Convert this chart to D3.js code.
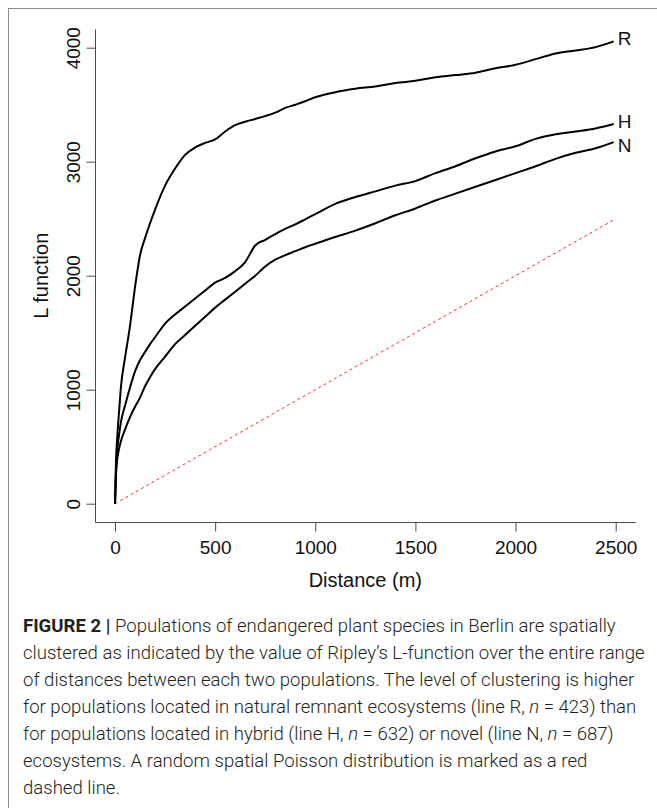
<!DOCTYPE html>
<html><head><meta charset="utf-8">
<script src="https://cdn.jsdelivr.net/npm/d3@7"></script>
<style>body{margin:0;background:#fff} svg{display:block}</style>
</head><body>
<svg id="c" width="657" height="808"></svg>
<script>
// ---- data ----
const distances = [0,5,10,20,30,50,75,100,125,150,175,200,250,300,350,400,450,500,550,600,650,700,750,800,850,900,950,1000,1100,1200,1300,1400,1500,1600,1700,1800,1900,2000,2100,2200,2300,2400,2490];
const seriesR = [0,380,550,800,1030,1280,1560,1900,2180,2330,2460,2580,2790,2940,3060,3125,3165,3196,3265,3320,3350,3375,3400,3430,3472,3500,3530,3565,3610,3640,3660,3690,3710,3740,3760,3780,3820,3850,3900,3950,3975,4005,4055];
const seriesH = [0,300,450,600,720,860,1020,1160,1260,1330,1400,1460,1580,1660,1730,1800,1870,1940,1980,2040,2120,2265,2315,2365,2410,2450,2495,2540,2630,2690,2740,2790,2830,2900,2960,3030,3090,3135,3200,3240,3265,3292,3330];
const seriesN = [0,250,370,480,550,650,760,850,930,1030,1110,1180,1290,1400,1480,1560,1640,1720,1790,1860,1930,2000,2080,2140,2180,2215,2250,2280,2340,2395,2460,2530,2590,2660,2720,2780,2840,2900,2960,3025,3078,3118,3172];
const poissonDist = [0, 2490];        // random Poisson: L(r) = r
const seriesNames = ["R","H","N"];
const labelValues = [4085, 3357, 3146];
const labelDist = 2510;
const xTicks = [0,500,1000,1500,2000,2500];
const yTicks = [0,1000,2000,3000,4000];
const xLabel = "Distance (m)";
const yLabel = "L function";
const captionLines = [
  [["FIGURE 2 |","b"],[" Populations of endangered plant species in Berlin are spatially",""]],
  [["clustered as indicated by the value of Ripley\u2019s L-function over the entire range",""]],
  [["of distances between each two populations. The level of clustering is higher",""]],
  [["for populations located in natural remnant ecosystems (line R, ",""],["n","i"],[" = 423) than",""]],
  [["for populations located in hybrid (line H, ",""],["n","i"],[" = 632) or novel (line N, ",""],["n","i"],[" = 687)",""]],
  [["ecosystems. A random spatial Poisson distribution is marked as a red",""]],
  [["dashed line.",""]]
];

// ---- drawing ----
const svg = d3.select("#c");
const FONT = "'Liberation Sans', Arial, Helvetica, sans-serif";

svg.append("rect").attr("x",8.5).attr("y",8.5).attr("width",720).attr("height",900)
  .attr("fill","none").attr("stroke","#8c8c8c").attr("stroke-width",1);

const x = d3.scaleLinear().domain([0,2500]).range([115,615.7]);
const y = d3.scaleLinear().domain([0,4000]).range([503.7,47.7]);
const xPad = 0.04*(x.domain()[1]-x.domain()[0]);
const yPad = 0.04*(y.domain()[1]-y.domain()[0]);
const fx0 = x(x.domain()[0]-xPad), fx1 = x(x.domain()[1]+xPad);
const fy0 = y(y.domain()[0]-yPad), fy1 = y(y.domain()[1]+yPad);

// L-shaped frame
const frame = svg.append("g").attr("stroke","#4a4a4a").attr("stroke-width",1).attr("fill","none");
frame.append("path").attr("d", `M${Math.round(fx0)+0.5},${fy1}V${Math.round(fy0)+0.5}H${fx1}`);

// x axis
const gx = svg.append("g").attr("transform",`translate(0,${Math.round(fy0)+0.5})`)
  .call(d3.axisBottom(x).tickValues(xTicks).tickSize(9).tickPadding(9).tickFormat(d3.format("d")));
gx.select(".domain").remove();
gx.selectAll(".tick line").attr("stroke","#4a4a4a");
gx.selectAll(".tick text").attr("fill","#111").style("font-family",FONT).style("font-size","19px");

// y axis
const gy = svg.append("g").attr("transform",`translate(${Math.round(fx0)+0.5},0)`)
  .call(d3.axisLeft(y).tickValues(yTicks).tickSize(9).tickFormat(d3.format("d")));
gy.select(".domain").remove();
gy.selectAll(".tick line").attr("stroke","#4a4a4a");
gy.selectAll(".tick text").attr("fill","#111").style("font-family",FONT).style("font-size","19px")
  .attr("x",0).attr("y",-15.5).attr("dy",0).attr("text-anchor","middle").attr("transform","rotate(-90)");

// axis titles
svg.append("text").attr("x",(fx0+fx1)/2).attr("y",587).attr("text-anchor","middle")
  .style("font-family",FONT).style("font-size","20px").attr("fill","#111").text(xLabel);
svg.append("text").attr("transform",`translate(48,${(fy0+fy1)/2}) rotate(-90)`).attr("text-anchor","middle")
  .style("font-family",FONT).style("font-size","20px").attr("fill","#111").text(yLabel);

// Poisson reference line
const line = d3.line().x(d=>x(d[0])).y(d=>y(d[1]));
svg.append("path").datum(poissonDist.map(d=>[d,d])).attr("d",line)
  .attr("fill","none").attr("stroke","#ff2a2a").attr("stroke-width",1).attr("stroke-dasharray","3,3");

// L-function curves
const curveLine = d3.line().x(d=>x(d[0])).y(d=>y(d[1])).curve(d3.curveMonotoneX);
[seriesR, seriesH, seriesN].forEach(s=>{
  svg.append("path").datum(distances.map((d,i)=>[d,s[i]])).attr("d",curveLine)
    .attr("fill","none").attr("stroke","#000").attr("stroke-width",2).attr("stroke-linejoin","round");
});

// series labels
svg.selectAll("text.lab").data(seriesNames).join("text").attr("class","lab")
  .attr("x",x(labelDist)).attr("y",(d,i)=>y(labelValues[i])).attr("dy","0.36em")
  .style("font-family",FONT).style("font-size","19px").attr("fill","#111").text(d=>d);

// caption
const CFONT = "Roboto, 'Liberation Sans', sans-serif";
const cap = svg.append("g").attr("fill","#231f20").style("font-family",CFONT);
const capX = 23, capY0 = 632, capDY = 27;
const texts = captionLines.map((segs,i)=>{
  const t = cap.append("text").attr("x",capX).attr("y",capY0+i*capDY).style("font-size","17px").style("font-weight","300");
  segs.forEach(([s,st])=>{
    const ts = t.append("tspan").text(s);
    if(st==="b") ts.style("font-weight","700");
    if(st==="i") ts.style("font-style","italic");
  });
  return t;
});
const w2 = texts[1].node().getComputedTextLength();
const fs = 17*622/w2;
texts.forEach(t=>t.style("font-size",fs+"px"));
</script>
</body></html>
